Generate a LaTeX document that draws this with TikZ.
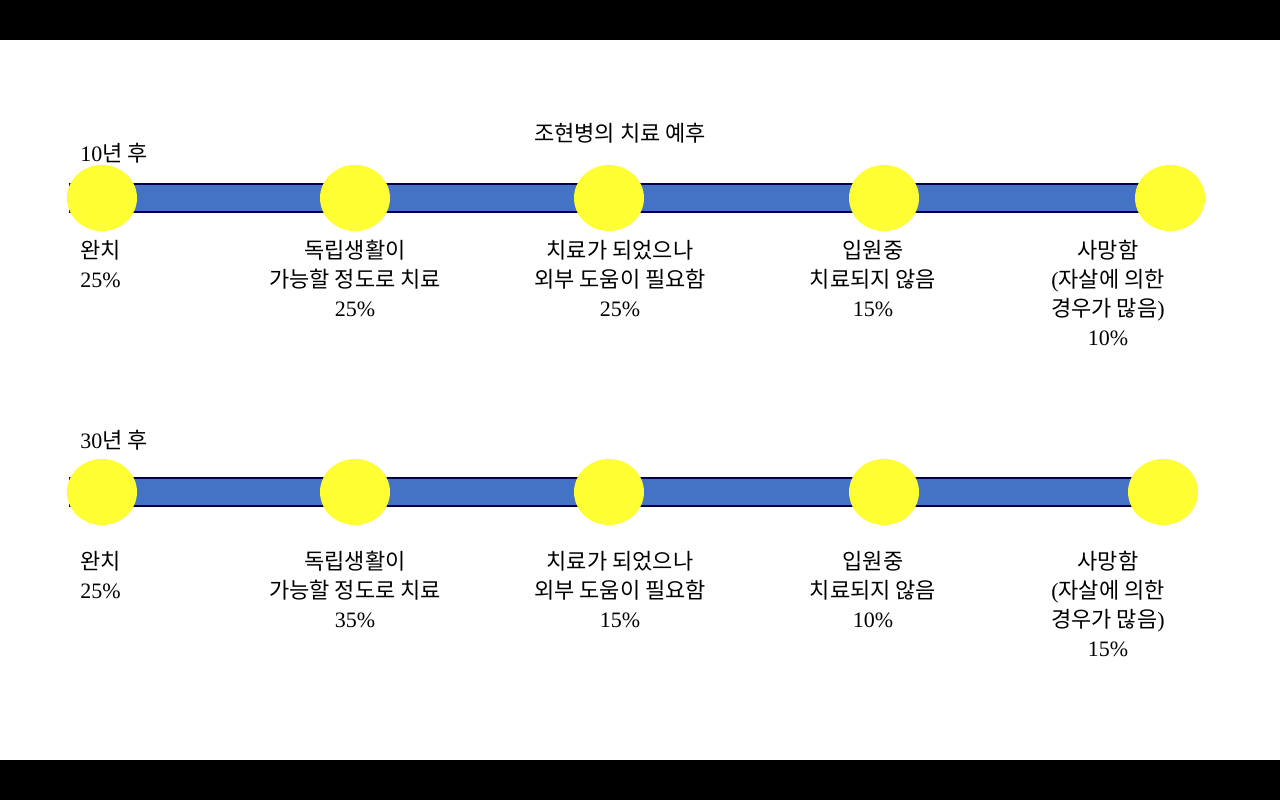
\documentclass[tikz,border=0pt]{standalone}
\usepackage{fontspec}
\setmainfont{Liberation Serif}
\newfontfamily\kr{Noto Sans CJK KR}
\begin{document}
\begin{tikzpicture}[x=0.75pt,y=-0.75pt,
  bar/.style={draw=black!70!blue,line width=1pt,fill={rgb,255:red,68;green,114;blue,196}},
  dot/.style={ellipse,fill={rgb,255:red,255;green,255;blue,51},minimum width=52.5pt,minimum height=49.5pt,inner sep=0pt},
  lbl/.style={align=center,anchor=north,font=\fontsize{16.5}{21.75}\selectfont,inner sep=0pt},
  hdr/.style={anchor=west,font=\fontsize{16.5}{20}\selectfont,inner sep=0pt}]
\usetikzlibrary{shapes.geometric}
\fill[white] (0,0) rectangle (1280,800);
\fill[black] (0,0) rectangle (1280,40);
\fill[black] (0,760) rectangle (1280,800);
\node[lbl,anchor=center] (title) at (620,133) {\kr 조현병의 치료 예후};
\foreach \yb/\yl/\nm/\a/\b/\c/\d/\e/\lx in {198/240/t/25/25/25/15/10/1170, 492/551/s/25/35/15/10/15/1163}{
  \fill[bar] (70,\yb-14) rectangle (\lx,\yb+14);
  \node[dot] (\nm1) at (102,\yb) {};
  \node[dot] (\nm2) at (355,\yb) {};
  \node[dot] (\nm3) at (609,\yb) {};
  \node[dot] (\nm4) at (884,\yb) {};
  \node[dot] (\nm5) at (\lx,\yb) {};
  \node[lbl,anchor=north west,align=left] (\nm l1) at (80,\yl) {{\kr 완치}\\\a\%};
  \node[lbl] (\nm l2) at (355,\yl) {{\kr 독립생활이}\\{\kr 가능할 정도로 치료}\\\b\%};
  \node[lbl] (\nm l3) at (620,\yl) {{\kr 치료가 되었으나}\\{\kr 외부 도움이 필요함}\\\c\%};
  \node[lbl] (\nm l4) at (873,\yl) {{\kr 입원중}\\{\kr 치료되지 않음}\\\d\%};
  \node[lbl] (\nm l5) at (1108,\yl) {{\kr 사망함}\\({\kr 자살에 의한}\\{\kr 경우가 많음})\\\e\%};
}
\node[hdr] (h1) at (80,153) {10{\kr 년 후}};
\node[hdr] (h2) at (80,440) {30{\kr 년 후}};
\end{tikzpicture}
\end{document}
